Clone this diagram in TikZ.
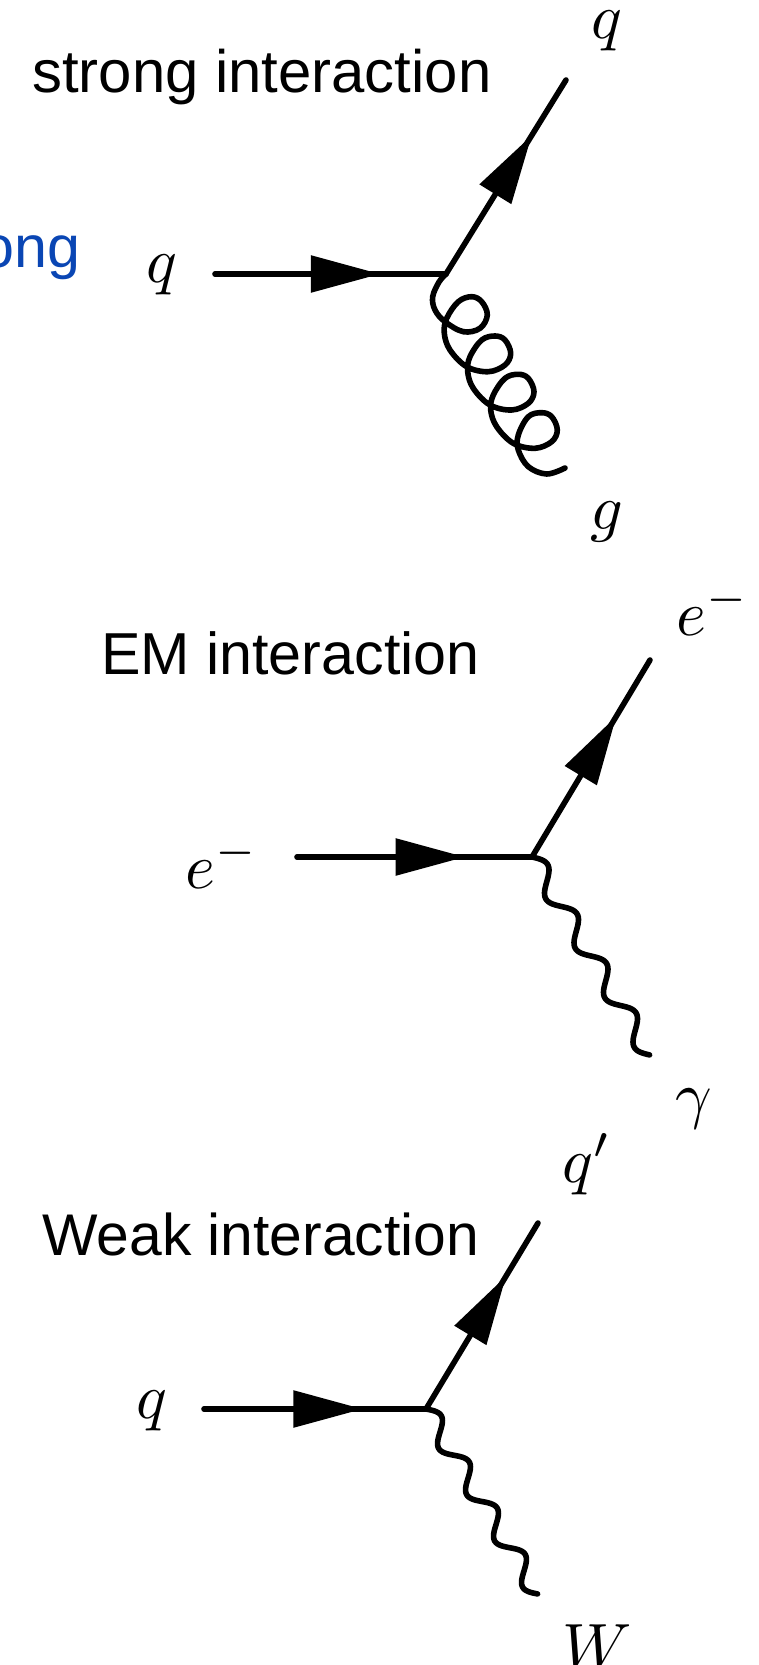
\documentclass[tikz,border=0pt]{standalone}
\usepackage{fontspec}
\setmainfont{Liberation Sans}
\usetikzlibrary{arrows.meta,calc,decorations.markings}
\definecolor{LabelBlue}{HTML}{0A46B4}
\newcommand{\photonline}[2]{
  \draw[photon] let \p1=(#1),\p2=(#2),\n1={veclen(\x2-\x1,\y2-\y1)} in
    plot[domain=0:1,samples=120,smooth,variable=\pos]
    ({\x1+\pos*(\x2-\x1)-7.2pt*sin(1440*\pos)*(\y2-\y1)/\n1},
     {\y1+\pos*(\y2-\y1)+7.2pt*sin(1440*\pos)*(\x2-\x1)/\n1});
}
\begin{document}
\begin{tikzpicture}[
    x=0.75pt,
    y=-0.75pt,
    fermion/.style={
      line width=4.2pt,
      line cap=round,
      decoration={
        markings,
        mark=at position 0.715 with {\arrow{Triangle[length=52pt,width=27pt]}}
      },
      postaction={decorate}
    },
    photon/.style={
      line width=4.2pt,
      line cap=round,
      line join=round
    },
    gluon/.style={
      line width=4.2pt,
      line cap=round,
      line join=round
    },
    title/.style={
      font=\fontsize{44.4}{50}\selectfont,
      anchor=base west,
      inner sep=0pt
    },
    particle/.style={
      scale=4.8,
      anchor=base,
      inner sep=0pt
    }
  ]

  \useasboundingbox (0,0) rectangle (758,1665);

  % strong
  \coordinate (q1in) at (215,274);
  \coordinate (v1) at (446,274);
  \coordinate (q1out) at (566,80);
  \coordinate (g1out) at (565,468);
  \draw[fermion] (q1in) -- (v1);
  \draw[fermion] (v1) -- (q1out);
  \draw[gluon] plot[smooth,tension=0.6] coordinates {
    (v1) (439,282) (432.7,296.7) (435,310) (445,321.7) (463.3,331.7) (480,328.3)
    (487.3,315) (481.7,301.7) (471.7,296.7) (458.3,301.7) (446.7,318.3)
    (444.3,333.3) (450,350) (466.7,366.7) (488.3,371.7) (505,365)
    (510.7,353.3) (505,340) (495,336) (481.7,340) (470,356.7)
    (467.7,371.7) (473.3,388.3) (490,405) (511.7,410) (528.3,403.3)
    (534,391.7) (528.3,378.3) (518.3,374.3) (505,378.3) (493.3,395)
    (490.7,410) (496.7,426.7) (513.3,443.3) (535,448.3) (551.7,441.7)
    (557.3,430) (551.7,416.7) (541.7,412.7) (528.3,416.7) (518.3,435)
    (518.3,450) (528.3,466.7) (546.7,474) (g1out)
  };
  \node[title,font=\fontsize{44.9}{50}\selectfont] (strongtitle) at (32,93) {strong interaction};
  \node[title,anchor=base east,color=LabelBlue] (stronglabel) at (81,268) {ong};
  \node[particle] (q1a) at (162,283) {$q$};
  \node[particle] (q1b) at (607,39) {$q$};
  \node[particle] (g1) at (607,529) {$g$};

  % EM
  \coordinate (e2in) at (297,857);
  \coordinate (v2) at (532,857);
  \coordinate (e2out) at (650,660);
  \coordinate (a2out) at (650,1055);
  \draw[fermion] (e2in) -- (v2);
  \draw[fermion] (v2) -- (e2out);
  \photonline{v2}{a2out}
  \node[title] (emtitle) at (101,674) {EM interaction};
  \node[particle] (e2a) at (222,888) {$e^-$};
  \node[particle] (e2b) at (713,635) {$e^-$};
  \node[particle] (a2) at (694,1116) {$\gamma$};

  % Weak
  \coordinate (q3in) at (204,1409);
  \coordinate (v3) at (426,1409);
  \coordinate (q3out) at (538,1223);
  \coordinate (w3out) at (538,1594);
  \draw[fermion] (q3in) -- (v3);
  \draw[fermion] (v3) -- (q3out);
  \photonline{v3}{w3out}
  \node[title,font=\fontsize{44.1}{50}\selectfont] (weaktitle) at (42,1255) {Weak interaction};
  \node[particle] (q3a) at (152,1418) {$q$};
  \node[particle] (q3b) at (587,1182) {$q'$};
  \node[particle] (w3) at (597,1668) {$W$};

\end{tikzpicture}
\end{document}
